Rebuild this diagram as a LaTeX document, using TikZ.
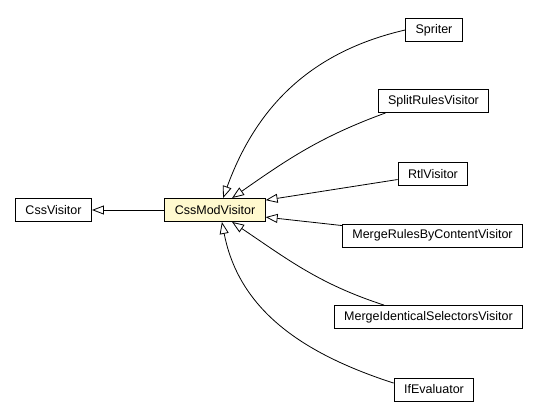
\documentclass[tikz,border=0pt]{standalone}
\usepackage{fontspec}
\setmainfont{Liberation Sans}
\usetikzlibrary{arrows.meta}

\definecolor{modfill}{RGB}{255,249,206}

\newcommand*{\picw}{548}
\newcommand*{\pich}{419}

\begin{document}
\begin{tikzpicture}
[
	x=1pt, y=-1pt,
	cls/.style={rectangle,draw,line width=0.9pt,inner xsep=10pt,inner ysep=0pt,minimum height=23pt,font=\fontsize{12.5}{14}\selectfont},
	focus/.style={cls,fill=modfill},
	inherit/.style={line width=0.8pt,-{Triangle[open,length=12pt,width=9pt]}}
]

	\useasboundingbox (0,0) rectangle (\picw,\pich);

	% classes
	\node[cls] at (53.5,210) (css) {CssVisitor};
	\node[focus] at (215,210) (mod) {CssModVisitor};

	\node[cls] at (434,30) (spriter) {Spriter};
	\node[cls] at (433.5,101) (split) {SplitRulesVisitor};
	\node[cls] at (433,174) (rtl) {RtlVisitor};
	\node[cls] at (432.5,235.5) (mrules) {MergeRulesByContentVisitor};
	\node[cls] at (428.5,317) (mident) {MergeIdenticalSelectorsVisitor};
	\node[cls] at (434,389.5) (ifeval) {IfEvaluator};

	% generalizations
	\draw[inherit] (mod) -- (css);

	\draw[inherit] (spriter.west) to[out=193,in=70] (mod.56);
	\draw[inherit] (split.194) to[out=200,in=35] (mod.35);
	\draw[inherit] (rtl) -- (mod.11);
	\draw[inherit] (mrules) -- (mod.-8);
	\draw[inherit] (mident.165) to[out=162,in=-34] (mod.-35);
	\draw[inherit] (ifeval.171) to[out=162,in=-79] (mod.-60);

\end{tikzpicture}
\end{document}
